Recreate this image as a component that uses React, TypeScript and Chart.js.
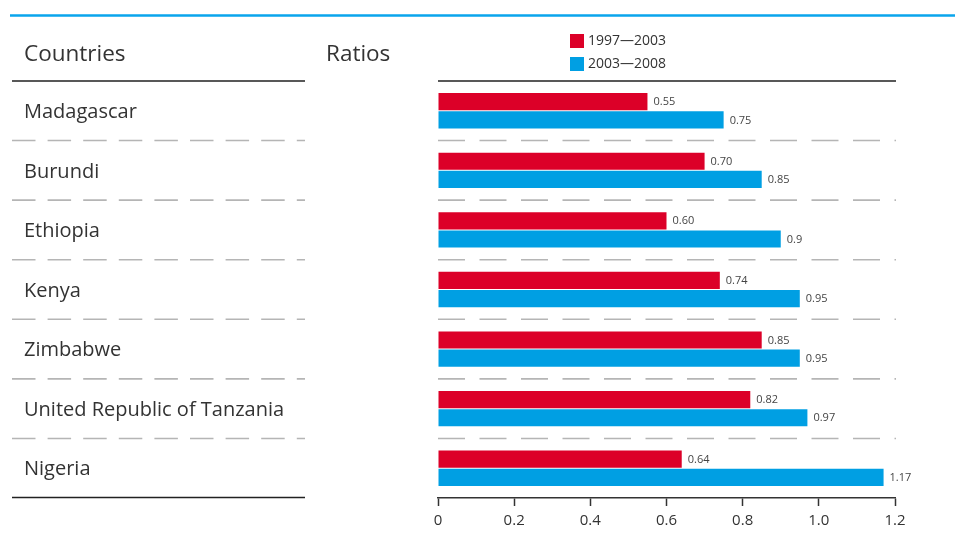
import React, { useEffect, useRef } from "react";
import { Chart, registerables } from "chart.js";

Chart.register(...registerables);

const countries = [
  "Madagascar",
  "Burundi",
  "Ethiopia",
  "Kenya",
  "Zimbabwe",
  "United Republic of Tanzania",
  "Nigeria",
];
const series1Label = "1997\u20142003";
const series2Label = "2003\u20142008";
const series1 = [0.55, 0.7, 0.6, 0.74, 0.85, 0.82, 0.64];
const series2 = [0.75, 0.85, 0.9, 0.95, 0.95, 0.97, 1.17];
const xTicks = [0, 0.2, 0.4, 0.6, 0.8, 1.0, 1.2];

const RED = "#dc0028";
const BLUE = "#009fe3";
const TEXT = "#333333";
const FONT = "'Open Sans', 'Noto Sans', sans-serif";

const fmt = (di: number, v: number) => (di === 0 ? v.toFixed(2) : String(v));

const decorPlugin = {
  id: "decor",
  beforeDraw(chart: any) {
    const { ctx, chartArea, scales } = chart;
    const y = scales.y;
    const n = countries.length;
    ctx.save();
    // top blue rule
    ctx.strokeStyle = "#0aa5ec";
    ctx.lineWidth = 2.5;
    ctx.beginPath();
    ctx.moveTo(10, 15.5);
    ctx.lineTo(955, 15.5);
    ctx.stroke();

    // headers
    ctx.fillStyle = TEXT;
    ctx.font = `22.5px ${FONT}`;
    ctx.textBaseline = "middle";
    ctx.textAlign = "left";
    ctx.fillText("Countries", 24, 55);
    ctx.fillText("Ratios", 326, 55);

    // legend
    const legendItems = [
      { label: series1Label, color: RED },
      { label: series2Label, color: BLUE },
    ];
    ctx.font = `14px ${FONT}`;
    legendItems.forEach((it, i) => {
      const cy = 41 + i * 23;
      ctx.fillStyle = it.color;
      ctx.fillRect(570, cy - 7, 14, 14);
      ctx.fillStyle = TEXT;
      ctx.fillText(it.label, 588, cy + 0.5);
    });

    // solid rules
    ctx.strokeStyle = "#222";
    ctx.lineWidth = 1.5;
    ctx.beginPath();
    ctx.moveTo(12, chartArea.top);
    ctx.lineTo(305, chartArea.top);
    ctx.moveTo(chartArea.left, chartArea.top);
    ctx.lineTo(chartArea.right + 1, chartArea.top);
    ctx.moveTo(12, chartArea.bottom - 0.5);
    ctx.lineTo(305, chartArea.bottom - 0.5);
    ctx.stroke();

    // dashed separators
    ctx.strokeStyle = "#b5b5b5";
    ctx.lineWidth = 1.6;
    for (let i = 0; i < n - 1; i++) {
      const yy = (y.getPixelForValue(i) + y.getPixelForValue(i + 1)) / 2;
      ctx.setLineDash([23.5, 12.1]);
      ctx.beginPath();
      ctx.moveTo(12, yy);
      ctx.lineTo(305, yy);
      ctx.stroke();
      ctx.setLineDash([27, 14.5]);
      ctx.beginPath();
      ctx.moveTo(chartArea.left, yy);
      ctx.lineTo(chartArea.right + 1, yy);
      ctx.stroke();
    }
    ctx.restore();
  },
  afterDatasetsDraw(chart: any) {
    const { ctx } = chart;
    ctx.save();
    ctx.font = `11px ${FONT}`;
    ctx.fillStyle = "#444";
    ctx.textAlign = "left";
    ctx.textBaseline = "middle";
    chart.data.datasets.forEach((ds: any, di: number) => {
      const meta = chart.getDatasetMeta(di);
      meta.data.forEach((bar: any, i: number) => {
        ctx.fillText(fmt(di, ds.data[i]), bar.x + 6, bar.y + 0.5);
      });
    });
    ctx.restore();
  },
};

export default function App() {
  const ref = useRef<HTMLCanvasElement | null>(null);
  useEffect(() => {
    if (!ref.current) return;
    const chart = new Chart(ref.current, {
      type: "bar",
      data: {
        labels: countries,
        datasets: [
          {
            label: series1Label,
            data: series1,
            backgroundColor: RED,
            categoryPercentage: 0.61,
            barPercentage: 0.945,
          },
          {
            label: series2Label,
            data: series2,
            backgroundColor: BLUE,
            categoryPercentage: 0.61,
            barPercentage: 0.945,
          },
        ],
      },
      options: {
        indexAxis: "y",
        animation: false,
        responsive: false,
        maintainAspectRatio: false,
        layout: { padding: { left: 24, right: 60, top: 81, bottom: 2 } },
        plugins: {
          legend: { display: false },
          tooltip: { enabled: false },
        },
        scales: {
          y: {
            type: "category",
            grid: { display: false },
            border: { display: false },
            afterFit: (scale: any) => {
              scale.width = 414;
            },
            ticks: {
              crossAlign: "far",
              color: TEXT,
              font: { family: FONT, size: 20 },
              padding: 0,
              labelOffset: 1.5,
            },
          },
          x: {
            type: "linear",
            min: 0,
            max: 1.2,
            afterBuildTicks: (scale: any) => {
              scale.ticks = xTicks.map((v) => ({ value: v }));
            },
            grid: {
              drawOnChartArea: false,
              drawTicks: true,
              tickLength: 8,
              tickColor: "#333",
              tickWidth: 1.5,
            },
            border: { display: true, color: "#333", width: 1.5 },
            ticks: {
              color: TEXT,
              font: { family: FONT, size: 15 },
              padding: 6,
              callback: (v: any) => (Number(v) === 0 ? "0" : Number(v).toFixed(1)),
            },
          },
        },
      },
      plugins: [decorPlugin],
    });
    return () => chart.destroy();
  }, []);
  return (
    <div style={{ position: "absolute", left: 0, top: 0, width: 955, height: 538, background: "#fff" }}>
      <canvas ref={ref} width={955} height={538} style={{ display: "block" }} />
    </div>
  );
}
